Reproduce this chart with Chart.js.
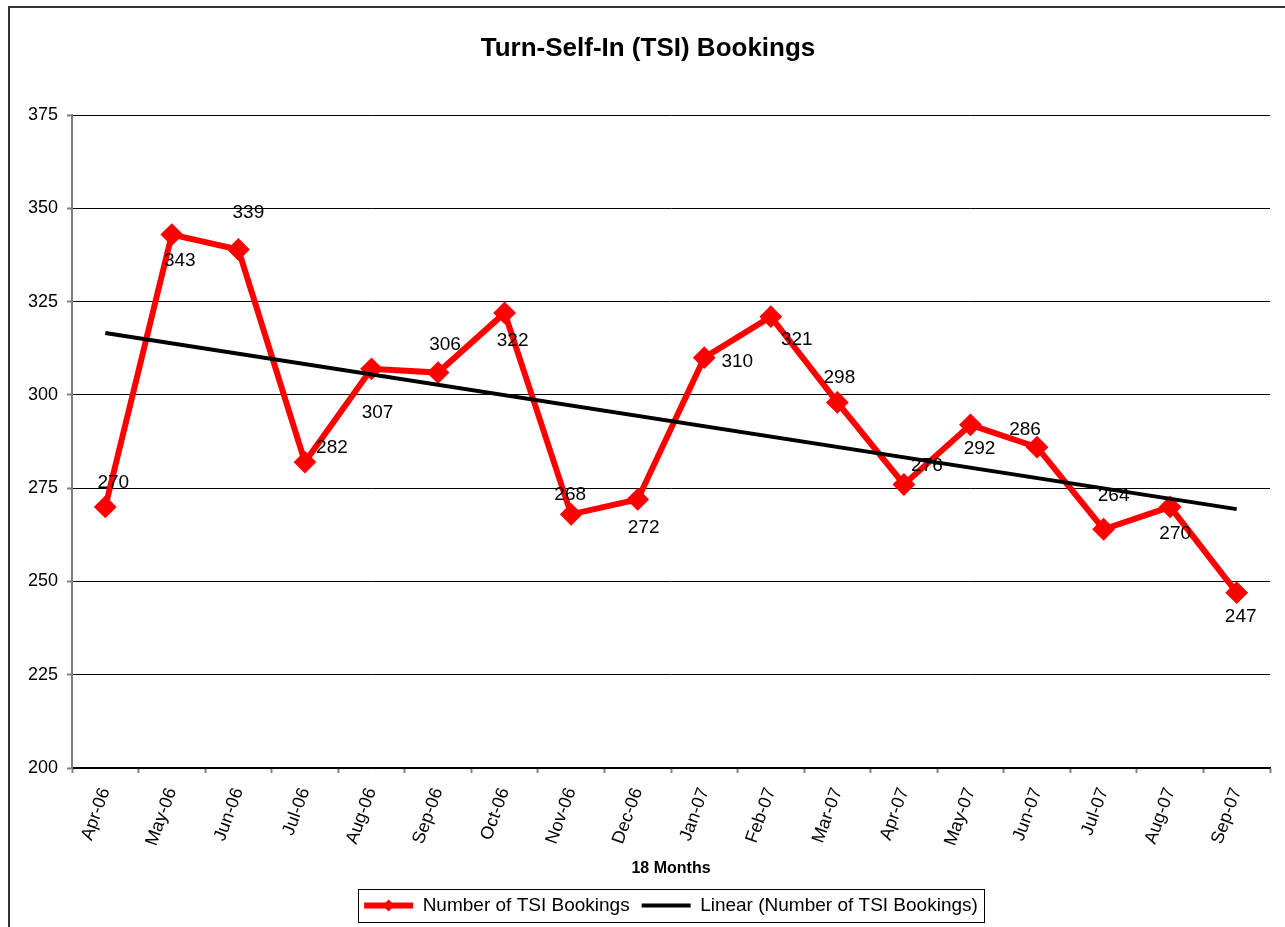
<!DOCTYPE html>
<html>
<head>
<meta charset="utf-8">
<title>Turn-Self-In (TSI) Bookings</title>
<script src="https://cdn.jsdelivr.net/npm/chart.js@4.4.1/dist/chart.umd.min.js"></script>
<style>
  html, body { margin: 0; padding: 0; background: #fff; }
  #wrap { position: relative; width: 1285px; height: 927px; overflow: hidden; }
  #chart { position: absolute; left: 0; top: 0; }
</style>
</head>
<body>
<div id="wrap"><canvas id="chart" width="1296" height="927"></canvas></div>
<script>
const months = ["Apr-06", "May-06", "Jun-06", "Jul-06", "Aug-06", "Sep-06", "Oct-06", "Nov-06", "Dec-06",
  "Jan-07", "Feb-07", "Mar-07", "Apr-07", "May-07", "Jun-07", "Jul-07", "Aug-07", "Sep-07"];
const bookings = [270, 343, 339, 282, 307, 306, 322, 268, 272, 310, 321, 298, 276, 292, 286, 264, 270, 247];
// end points of the linear trend
const trendStart = 316.6;
const trendEnd = 269.4;
const yTicks = [200, 225, 250, 275, 300, 325, 350, 375];

// where each value label sits relative to its marker (px)
const labelOffsets = [[8, -24], [8, 26], [10, -37], [27, -14], [6, 44], [7, -28], [8, 28], [-1, -20], [6, 28],
  [33, 4], [26, 23], [2, -25], [23, -19], [9, 24], [-12, -17], [10, -33], [5, 27], [4, 24]];

const trend = months.map((m, i) => (i === 0 ? trendStart : i === months.length - 1 ? trendEnd : null));
const FONT = "'Liberation Sans', Arial, sans-serif";

const framePlugin = {
  id: "frame",
  beforeDraw(chart) {
    const ctx = chart.ctx;
    ctx.save();
    ctx.fillStyle = "#fff";
    ctx.fillRect(0, 0, chart.width, chart.height);
    ctx.strokeStyle = "#333";
    ctx.lineWidth = 2;
    ctx.strokeRect(9, 7, 1278, 1000);
    ctx.restore();
  },
};

const valueLabels = {
  id: "valueLabels",
  afterDatasetsDraw(chart) {
    const ctx = chart.ctx;
    const meta = chart.getDatasetMeta(0);
    ctx.save();
    ctx.font = `19px ${FONT}`;
    ctx.fillStyle = "#000";
    ctx.textAlign = "center";
    ctx.textBaseline = "middle";
    meta.data.forEach((pt, i) => {
      const [dx, dy] = labelOffsets[i];
      ctx.fillText(String(bookings[i]), pt.x + dx, pt.y + dy);
    });
    ctx.restore();
  },
};

const legendBox = {
  id: "legendBox",
  afterDraw(chart) {
    const boxes = chart.legend.legendHitBoxes;
    if (!boxes || !boxes.length) return;
    const ctx = chart.ctx;
    const first = boxes[0];
    const last = boxes[boxes.length - 1];
    const left = first.left - 6;
    const right = last.left + last.width + 6;
    const top = first.top - 7;
    const bottom = first.top + first.height + 7;
    ctx.save();
    ctx.strokeStyle = "#000";
    ctx.lineWidth = 1;
    ctx.strokeRect(Math.round(left) + 0.5, Math.round(top) + 0.5, Math.round(right - left), Math.round(bottom - top));
    // diamond marker on the first legend line
    const cx = first.left + 49 / 2;
    const cy = first.top + first.height / 2;
    ctx.fillStyle = "#ff0000";
    ctx.beginPath();
    ctx.moveTo(cx, cy - 6);
    ctx.lineTo(cx + 6, cy);
    ctx.lineTo(cx, cy + 6);
    ctx.lineTo(cx - 6, cy);
    ctx.closePath();
    ctx.fill();
    ctx.restore();
  },
};

new Chart(document.querySelector("#chart"), {
  type: "line",
  data: {
    labels: months,
    datasets: [
      {
        label: "Number of TSI Bookings",
        data: bookings,
        borderColor: "#ff0000",
        backgroundColor: "#ff0000",
        borderWidth: 6,
        pointStyle: "rectRot",
        pointRadius: 10,
        pointBorderWidth: 2,
        pointBackgroundColor: "#ff0000",
        pointBorderColor: "#ff0000",
        tension: 0,
        order: 1,
      },
      {
        label: "Linear (Number of TSI Bookings)",
        data: trend,
        borderColor: "#000",
        backgroundColor: "#000",
        borderWidth: 4,
        pointRadius: 0,
        spanGaps: true,
        tension: 0,
        order: 0,
      },
    ],
  },
  options: {
    responsive: false,
    animation: false,
    events: [],
    layout: { padding: { left: 26, right: 26, top: 0, bottom: 2 } },
    scales: {
      x: {
        offset: true,
        grid: {
          offset: true,
          drawOnChartArea: false,
          tickLength: 5,
          tickColor: "#808080",
          tickWidth: 2,
        },
        border: { color: "#000", width: 1.5 },
        ticks: {
          autoSkip: false,
          minRotation: 70,
          maxRotation: 70,
          padding: 12,
          color: "#000",
          font: { family: FONT, size: 18 },
        },
        title: {
          display: true,
          text: "18 Months",
          color: "#000",
          font: { family: FONT, size: 16, weight: "bold" },
          padding: { top: 0, bottom: 6 },
        },
        afterFit(scale) {
          scale.height = 116;
        },
      },
      y: {
        min: 200,
        max: 375,
        afterBuildTicks(scale) {
          scale.ticks = yTicks.map((v) => ({ value: v }));
        },
        grid: {
          color: "#000",
          lineWidth: 1,
          tickLength: 5,
          tickColor: "#808080",
          tickWidth: 2,
        },
        border: { color: "#808080", width: 2 },
        ticks: {
          padding: 9,
          color: "#000",
          font: { family: FONT, size: 18 },
        },
        afterFit(scale) {
          scale.width = 46;
        },
      },
    },
    plugins: {
      title: {
        display: true,
        text: "Turn-Self-In (TSI) Bookings",
        color: "#000",
        font: { family: FONT, size: 26, weight: "bold" },
        padding: { top: 33, bottom: 51 },
      },
      legend: {
        position: "bottom",
        fullSize: false,
        labels: {
          color: "#000",
          font: { family: FONT, size: 19 },
          usePointStyle: true,
          pointStyleWidth: 49,
          boxHeight: 6,
          padding: 12,
          generateLabels(chart) {
            return chart.data.datasets.map((ds, i) => ({
              text: ds.label,
              fillStyle: ds.borderColor,
              strokeStyle: ds.borderColor,
              lineWidth: ds.borderWidth,
              pointStyle: "line",
              hidden: false,
              datasetIndex: i,
            }));
          },
        },
      },
      tooltip: { enabled: false },
    },
  },
  plugins: [framePlugin, valueLabels, legendBox],
});
</script>
</body>
</html>
